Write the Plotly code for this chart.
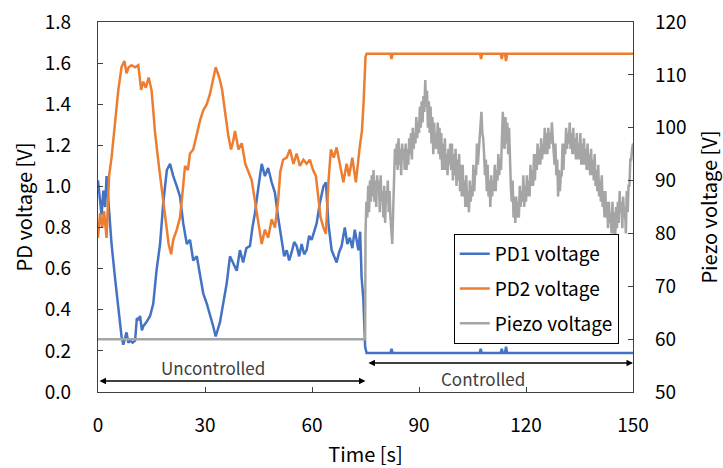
import numpy as np
import plotly.graph_objects as go

# ---------------- data ----------------
pd1_t = [0, 0.6, 1.0, 1.5, 2.0, 2.4, 3.1, 3.8, 4.8, 5.7, 6.6, 7.1, 7.6, 8.0, 8.5, 9.0, 9.7, 10.4, 10.9, 11.3,
         11.8, 12.3, 12.7, 13.6, 14.6, 15.5, 16.4, 17.4, 18.3, 19.3, 20.2, 21.1, 22.1, 23.0, 23.9, 24.9, 25.8,
         26.7, 27.7, 28.6, 29.5, 30.5, 31.4, 32.3, 33.0, 34.2, 35.1, 36.1, 37.0, 37.9, 38.9, 39.8, 40.7, 41.6,
         42.6, 43.3, 44.0, 45.0, 45.9, 46.8, 47.7, 48.7, 49.6, 50.5, 51.5, 52.2, 52.9, 53.6, 54.3, 55.0, 55.7,
         56.4, 57.1, 57.8, 58.5, 59.2, 59.9, 60.6, 61.3, 62.2, 63.2, 63.9, 64.6, 65.5, 66.2, 66.9, 67.6, 68.3,
         69.2, 69.9, 70.6, 71.3, 72.0, 72.5, 73.0, 73.5, 73.9, 74.4, 74.9,
         75.3, 82.0, 82.3, 82.6, 107.0, 107.3, 107.6, 112.9, 113.2, 113.5, 114.1, 114.4, 114.7, 150.0]
pd1_v = [1.03, 0.92, 0.86, 0.98, 0.90, 1.05, 0.88, 0.72, 0.55, 0.40, 0.27, 0.23, 0.26, 0.29, 0.24, 0.25, 0.24,
         0.25, 0.36, 0.35, 0.37, 0.30, 0.32, 0.34, 0.37, 0.43, 0.59, 0.72, 0.92, 1.08, 1.11, 1.05, 1.00, 0.95,
         0.82, 0.72, 0.74, 0.64, 0.66, 0.56, 0.48, 0.43, 0.38, 0.32, 0.27, 0.34, 0.43, 0.53, 0.66, 0.63, 0.59,
         0.69, 0.63, 0.70, 0.71, 0.80, 0.87, 1.00, 1.11, 1.05, 1.09, 1.02, 0.97, 0.85, 0.74, 0.66, 0.69, 0.64,
         0.68, 0.73, 0.71, 0.66, 0.72, 0.67, 0.69, 0.76, 0.74, 0.78, 0.82, 0.92, 1.00, 1.02, 0.82, 0.69, 0.66,
         0.63, 0.68, 0.71, 0.80, 0.72, 0.75, 0.70, 0.79, 0.73, 0.69, 0.78, 0.56, 0.45, 0.22,
         0.19, 0.19, 0.21, 0.19, 0.19, 0.21, 0.19, 0.19, 0.21, 0.19, 0.19, 0.22, 0.19, 0.19]

pd2_t = [0, 0.6, 1.2, 1.7, 2.4, 3.1, 3.8, 4.8, 5.7, 6.6, 7.4, 8.0, 8.6, 9.4, 10.4, 11.3, 12.1, 12.7, 13.4, 14.2,
         15.0, 15.5, 16.0, 17.0, 17.9, 18.8, 19.8, 20.5, 21.1, 22.1, 23.0, 23.6, 24.4, 25.2, 25.8, 26.7, 27.7,
         28.6, 29.5, 30.5, 31.4, 32.3, 33.0, 34.0, 34.8, 35.8, 36.6, 37.3, 37.9, 38.4, 39.4, 40.3, 41.3, 42.2,
         43.1, 44.0, 45.0, 45.9, 46.8, 47.7, 48.7, 49.6, 50.5, 51.1, 51.9, 52.9, 53.8, 54.8, 55.7, 56.6, 57.6,
         58.5, 59.4, 60.3, 61.1, 61.7, 62.4, 63.2, 63.9, 64.6, 65.3, 66.1, 66.9, 67.8, 68.8, 69.7, 70.4, 71.3,
         72.3, 73.3, 74.0, 74.5, 75.0,
         75.3, 82.0, 82.3, 82.6, 107.1, 107.4, 107.7, 112.9, 113.2, 113.5, 114.1, 114.4, 114.7, 150.0]
pd2_v = [0.75, 0.87, 0.80, 0.88, 0.75, 1.05, 1.14, 1.31, 1.47, 1.58, 1.61, 1.55, 1.58, 1.59, 1.58, 1.59, 1.47,
         1.51, 1.48, 1.53, 1.47, 1.37, 1.26, 1.11, 0.98, 0.85, 0.72, 0.67, 0.74, 0.79, 0.85, 0.95, 1.10, 1.08,
         1.16, 1.18, 1.26, 1.32, 1.37, 1.40, 1.45, 1.52, 1.58, 1.53, 1.47, 1.34, 1.24, 1.18, 1.22, 1.27, 1.18,
         1.21, 1.11, 1.07, 1.03, 0.93, 0.82, 0.72, 0.79, 0.75, 0.84, 0.80, 0.93, 1.07, 1.13, 1.14, 1.18, 1.11,
         1.16, 1.10, 1.13, 1.11, 1.13, 1.08, 1.05, 0.97, 0.85, 0.80, 0.77, 1.02, 1.18, 1.14, 1.19, 1.11, 1.02,
         1.11, 1.05, 1.14, 1.02, 1.18, 1.27, 1.42, 1.63,
         1.645, 1.645, 1.62, 1.645, 1.645, 1.62, 1.645, 1.645, 1.62, 1.645, 1.645, 1.61, 1.645, 1.645]

piezo_unc_t = [0, 74.9]
piezo_unc_v = [60, 60]
# controlled piezo voltage, sampled every 0.25 s from 75 s to 150 s
piezo_ctrl_v = [
    80, 86, 83, 89,  84, 90, 86, 91,  87, 92, 86, 90,  85, 91, 88, 90,  84, 91, 86, 88,
    83, 89, 82, 88,  86, 90, 84, 88,  83, 80, 78, 84,  90, 96, 93, 97,  92, 98, 93, 96,
    91, 97, 94, 96,  92, 97, 92, 96,  93, 98, 95, 99,  94, 100, 96, 99, 97, 102, 98, 101,
    99, 104, 100, 105, 101, 106, 103, 109, 104, 107, 100, 105, 99, 104, 97, 102, 95, 101, 96, 99,
    96, 101, 95, 100, 94, 99, 92, 97,  92, 98, 92, 95,  91, 96, 93, 97,  92, 97, 90, 95,
    91, 96, 89, 94,  90, 95, 88, 93,  87, 93, 87, 90,  85, 91, 85, 88,  84, 90, 86, 89,
    87, 93, 88, 92,  91, 97, 93, 96,  97, 101, 103, 99, 98, 95, 91, 94,  88, 93, 87, 90,
    85, 91, 87, 90,  88, 93, 88, 92,  90, 95, 91, 94,  92, 98, 103, 97, 96, 102, 97, 101,
    95, 100, 92, 89, 86, 90, 83, 87,  82, 87, 83, 86,  83, 89, 85, 88,  86, 91, 85, 89,
    86, 91, 87, 90,  87, 93, 89, 92,  89, 95, 90, 95,  92, 97, 93, 96,  93, 98, 94, 97,
    95, 100, 95, 99, 95, 100, 96, 99, 97, 101, 98, 96, 93, 97, 91, 94,  87, 92, 88, 91,
    91, 97, 92, 97,  95, 100, 96, 99, 97, 101, 96, 99, 95, 100, 95, 98, 94, 99, 94, 97,
    94, 99, 93, 97,  93, 98, 93, 96,  92, 97, 92, 95,  91, 96, 91, 94,  90, 95, 89, 92,
    88, 93, 87, 90,  86, 91, 85, 88,  83, 88, 83, 86,  81, 86, 82, 84,  80, 86, 80, 84,
    79, 85, 81, 86,  82, 88, 84, 86,  81, 87, 83, 85,  80, 88, 84, 89,  89, 94, 94, 96,
    97]
piezo_ctrl_t = list(75.0 + 0.25 * np.arange(len(piezo_ctrl_v)))
piezo_t = piezo_unc_t + piezo_ctrl_t
piezo_v = piezo_unc_v + piezo_ctrl_v

x_ticks = [0, 30, 60, 90, 120, 150]
y_ticks = [0.0, 0.2, 0.4, 0.6, 0.8, 1.0, 1.2, 1.4, 1.6, 1.8]
y2_ticks = [50, 60, 70, 80, 90, 100, 110, 120]

# ---------------- figure ----------------
FONT = "Noto Sans CJK JP, Noto Sans, sans-serif"
AX = "#404040"

fig = go.Figure()
fig.add_trace(go.Scatter(x=pd1_t, y=pd1_v, mode="lines", name="PD1 voltage",
                         line=dict(color="#4472C4", width=2.5), legendgroup="a"))
fig.add_trace(go.Scatter(x=pd2_t, y=pd2_v, mode="lines", name="PD2 voltage",
                         line=dict(color="#ED7D31", width=2.5), legendgroup="b"))
fig.add_trace(go.Scatter(x=piezo_t, y=piezo_v, mode="lines", name="Piezo voltage", yaxis="y2",
                         line=dict(color="#A5A5A5", width=2.5), legendgroup="c"))

anns = [
    dict(x=75, y=0.0535, ax=0, ay=0.0535, xref="x", yref="y", axref="x", ayref="y",
         text="", showarrow=True, arrowhead=2, arrowside="end+start", arrowsize=1, arrowwidth=1.3,
         arrowcolor="black", standoff=0, startstandoff=0),
    dict(x=150, y=0.141, ax=75.4, ay=0.141, xref="x", yref="y", axref="x", ayref="y",
         text="", showarrow=True, arrowhead=2, arrowside="end+start", arrowsize=1, arrowwidth=1.3,
         arrowcolor="black", standoff=0, startstandoff=0),
    dict(x=32.2, y=0.12, xref="x", yref="y", text="Uncontrolled", showarrow=False,
         font=dict(family=FONT, size=17, color="#404040")),
    dict(x=108, y=0.068, xref="x", yref="y", text="Controlled", showarrow=False,
         font=dict(family=FONT, size=17, color="#404040")),
]

fig.update_layout(
    width=723, height=468,
    margin=dict(l=98, r=90, t=22, b=76),
    paper_bgcolor="white", plot_bgcolor="white",
    font=dict(family=FONT, size=19, color="black"),
    showlegend=True,
    legend=dict(x=0.665, y=0.427, xanchor="left", yanchor="top",
                bordercolor="black", borderwidth=1, bgcolor="white",
                font=dict(family=FONT, size=19), itemwidth=30, tracegroupgap=7),
    xaxis=dict(range=[0, 150], tickvals=x_ticks, ticks="inside", ticklen=5, tickcolor=AX,
               showline=True, linecolor=AX, linewidth=1.3, mirror=True, showgrid=False, zeroline=False,
               ticklabelstandoff=16, automargin=False,
               title=dict(text="Time [s]", standoff=18, font=dict(size=20)), tickfont=dict(size=19)),
    yaxis=dict(range=[0, 1.8], tickvals=y_ticks, tickformat=".1f", ticks="inside", ticklen=5, tickcolor=AX,
               showline=True, linecolor=AX, linewidth=1.3, showgrid=False, zeroline=False,
               ticklabelstandoff=22, automargin=False,
               title=dict(text="PD voltage [V]", standoff=6, font=dict(size=20)), tickfont=dict(size=19)),
    yaxis2=dict(range=[50, 120], tickvals=y2_ticks, ticks="inside", ticklen=5, tickcolor=AX,
                overlaying="y", side="right", showline=True, linecolor=AX, linewidth=1.3,
                showgrid=False, zeroline=False, ticklabelstandoff=17, automargin=False,
                title=dict(text="Piezo voltage [V]", standoff=18, font=dict(size=20)), tickfont=dict(size=19)),
    annotations=anns,
)

fig.write_html("out.html")
